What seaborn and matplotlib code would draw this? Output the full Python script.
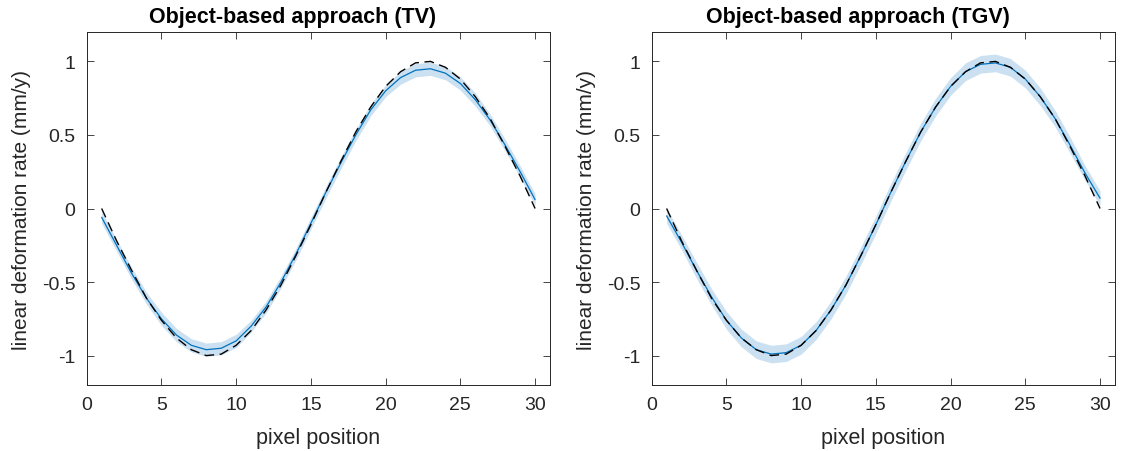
import matplotlib
matplotlib.use("Agg")
import matplotlib.pyplot as plt
import seaborn as sns
import pandas as pd

# pixel positions along the profile
pixel = list(range(1, 31))

# reference (true) deformation rate profile, mm/y
true_rate = [0.00, -0.22, -0.42, -0.61, -0.76, -0.88, -0.96, -1.00, -0.99, -0.93,
             -0.83, -0.69, -0.52, -0.32, -0.11, 0.11, 0.32, 0.52, 0.69, 0.83,
             0.93, 0.99, 1.00, 0.96, 0.88, 0.76, 0.61, 0.42, 0.22, 0.00]

# TV estimate: mean and half-width of the spread
tv_mean = [-0.06, -0.25, -0.44, -0.61, -0.75, -0.86, -0.93, -0.96, -0.95, -0.90,
           -0.80, -0.67, -0.50, -0.31, -0.10, 0.11, 0.31, 0.50, 0.67, 0.80,
           0.89, 0.94, 0.95, 0.92, 0.85, 0.74, 0.60, 0.43, 0.25, 0.06]
tv_spread = [0.04, 0.04, 0.04, 0.04, 0.045, 0.045, 0.045, 0.045, 0.045, 0.045,
             0.04, 0.04, 0.04, 0.04, 0.04, 0.04, 0.04, 0.04, 0.04, 0.04,
             0.045, 0.045, 0.045, 0.045, 0.045, 0.045, 0.04, 0.04, 0.04, 0.04]

# TGV estimate: mean and half-width of the spread
tgv_mean = [-0.05, -0.23, -0.42, -0.60, -0.76, -0.88, -0.96, -0.99, -0.98, -0.93,
            -0.83, -0.69, -0.52, -0.32, -0.11, 0.11, 0.32, 0.52, 0.69, 0.83,
            0.93, 0.98, 0.99, 0.96, 0.88, 0.76, 0.61, 0.43, 0.24, 0.07]
tgv_spread = [0.05, 0.05, 0.055, 0.055, 0.06, 0.06, 0.06, 0.06, 0.06, 0.06,
              0.06, 0.06, 0.06, 0.06, 0.06, 0.06, 0.06, 0.06, 0.06, 0.06,
              0.06, 0.06, 0.06, 0.06, 0.06, 0.06, 0.055, 0.055, 0.05, 0.05]

titles = ["Object-based approach (TV)", "Object-based approach (TGV)"]
x_ticks = [0, 5, 10, 15, 20, 25, 30]
y_ticks = [-1, -0.5, 0, 0.5, 1]
y_tick_labels = ["-1", "-0.5", "0", "0.5", "1"]

sns.set_theme(style="white")
plt.rcParams["font.family"] = ["Liberation Sans", "DejaVu Sans"]
plt.rcParams["axes.unicode_minus"] = False

AXIS_COLOR = "#262626"
LINE_BLUE = "#0072BD"
BAND_BLUE = "#cbe1f2"

fig = plt.figure(figsize=(11.29, 4.52), dpi=100)
ax_l = fig.add_axes([0.0768, 0.146, 0.4104, 0.781])
ax_r = fig.add_axes([0.5772, 0.146, 0.4104, 0.781])

series = [(tv_mean, tv_spread), (tgv_mean, tgv_spread)]

for ax, title, (mean, spread) in zip([ax_l, ax_r], titles, series):
    df = pd.DataFrame({"pixel": pixel, "true": true_rate, "mean": mean,
                       "lo": [m - s for m, s in zip(mean, spread)],
                       "hi": [m + s for m, s in zip(mean, spread)]})
    ax.fill_between(df["pixel"], df["lo"], df["hi"], color=BAND_BLUE,
                    linewidth=0, zorder=1)
    sns.lineplot(data=df, x="pixel", y="mean", ax=ax, color=LINE_BLUE,
                 linewidth=0.9, zorder=2)
    sns.lineplot(data=df, x="pixel", y="true", ax=ax, color="black",
                 linewidth=1.0, linestyle=(0, (7, 4)), zorder=3)

    ax.set_xlim(0, 31)
    ax.set_ylim(-1.2, 1.2)
    ax.set_xticks(x_ticks)
    ax.set_xticklabels([str(t) for t in x_ticks])
    ax.set_yticks(y_ticks)
    ax.set_yticklabels(y_tick_labels)
    ax.tick_params(direction="in", length=5, width=0.6, color=AXIS_COLOR,
                   labelsize=14, labelcolor=AXIS_COLOR, top=True, right=True,
                   bottom=True, left=True, pad=8)
    for sp in ax.spines.values():
        sp.set_visible(True)
        sp.set_color(AXIS_COLOR)
        sp.set_linewidth(0.7)
    ax.set_xlabel("pixel position", fontsize=15.5, color=AXIS_COLOR, labelpad=10)
    ax.set_ylabel("linear deformation rate (mm/y)", fontsize=15,
                  color=AXIS_COLOR, labelpad=8)
    ax.set_title(title, fontsize=15.5, fontweight="bold", color="black",
                 pad=7, x=0.445)
    ax.grid(False)

fig.savefig("out.png", dpi=100)
